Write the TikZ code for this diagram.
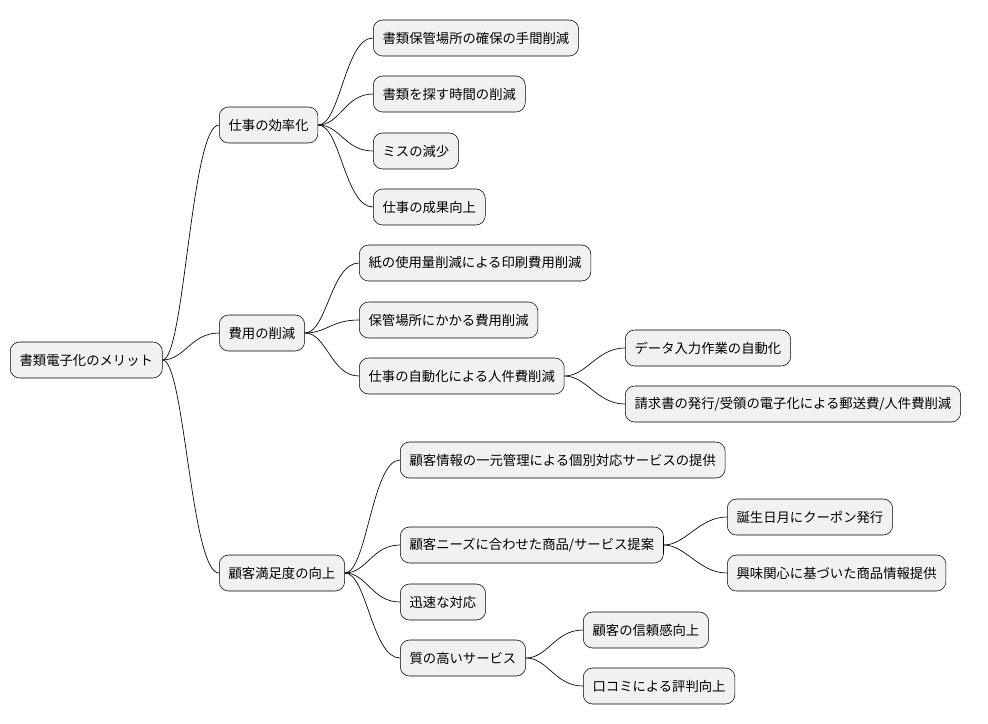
\documentclass[tikz,border=0pt]{standalone}
\usepackage{fontspec}
\setmainfont{Noto Sans CJK JP}
\definecolor{boxfill}{HTML}{F1F1F1}
\tikzset{
  idea/.style={draw=black, fill=boxfill, rounded corners=7pt, anchor=west,
    minimum height=27pt, inner xsep=7pt, font=\fontsize{10pt}{12pt}\selectfont},
  link/.style={draw=black, line width=0.5pt}
}
\newcommand{\branch}[2]{\draw[link] (#1.east) .. controls +(22,0) and +(-28,0) .. (#2.west);}
\begin{document}
\begin{tikzpicture}[x=0.75pt,y=-0.75pt]
\useasboundingbox (0,0) rectangle (988,724);
% root
\node[idea] (root) at (10,360) {書類電子化のメリット};
% 仕事の効率化
\node[idea] (work) at (219,125) {仕事の効率化};
\node[idea] (w1) at (373,38) {書類保管場所の確保の手間削減};
\node[idea] (w2) at (373,94) {書類を探す時間の削減};
\node[idea] (w3) at (373,151) {ミスの減少};
\node[idea] (w4) at (373,207) {仕事の成果向上};
% 費用の削減
\node[idea] (cost) at (219,333) {費用の削減};
\node[idea] (c1) at (359,263) {紙の使用量削減による印刷費用削減};
\node[idea] (c2) at (359,320) {保管場所にかかる費用削減};
\node[idea] (c3) at (359,376) {仕事の自動化による人件費削減};
\node[idea] (c31) at (625,348) {データ入力作業の自動化};
\node[idea] (c32) at (625,404) {請求書の発行/受領の電子化による郵送費/人件費削減};
% 顧客満足度の向上
\node[idea] (cust) at (219,573) {顧客満足度の向上};
\node[idea] (s1) at (400,460) {顧客情報の一元管理による個別対応サービスの提供};
\node[idea] (s2) at (400,545) {顧客ニーズに合わせた商品/サービス提案};
\node[idea] (s21) at (727,517) {誕生日月にクーポン発行};
\node[idea] (s22) at (727,573) {興味関心に基づいた商品情報提供};
\node[idea] (s3) at (400,602) {迅速な対応};
\node[idea] (s4) at (400,658) {質の高いサービス};
\node[idea] (s41) at (583,630) {顧客の信頼感向上};
\node[idea] (s42) at (583,686) {口コミによる評判向上};
% connectors
\foreach \c in {work,cost,cust} {\branch{root}{\c}}
\foreach \c in {w1,w2,w3,w4} {\branch{work}{\c}}
\foreach \c in {c1,c2,c3} {\branch{cost}{\c}}
\foreach \c in {c31,c32} {\branch{c3}{\c}}
\foreach \c in {s1,s2,s3,s4} {\branch{cust}{\c}}
\foreach \c in {s21,s22} {\branch{s2}{\c}}
\foreach \c in {s41,s42} {\branch{s4}{\c}}
\end{tikzpicture}
\end{document}
